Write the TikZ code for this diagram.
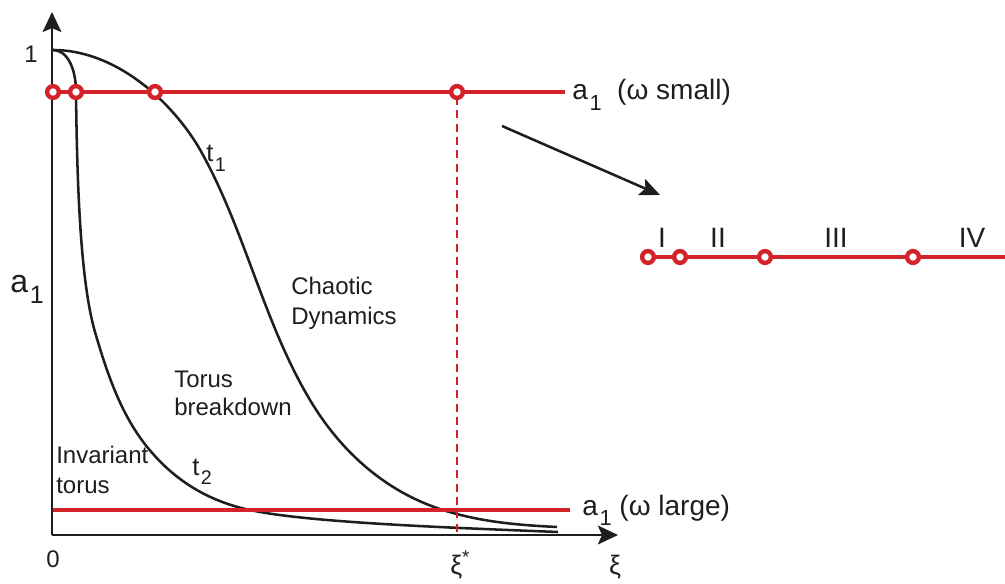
\documentclass[tikz,border=0pt]{standalone}
\usepackage{fontspec}
\setmainfont{Liberation Sans}
\usetikzlibrary{arrows.meta}
\definecolor{cred}{RGB}{210,35,42}
\definecolor{cblack}{RGB}{30,30,30}
\newcommand\lbl[1]{\fontsize{#1}{#1}\selectfont}
\newcommand\sbs[1]{\kern0.06em\raisebox{-0.36em}{\scalebox{0.78}{#1}}}
\begin{document}
\begin{tikzpicture}[x=0.75pt,y=-0.75pt,
  axis/.style={draw=cblack,line width=2.2pt,-{Stealth[length=15pt,width=14pt,inset=3pt]}},
  curve/.style={draw=cblack,line width=1.9pt},
  redline/.style={draw=cred,line width=3.7pt},
  reddash/.style={draw=cred,line width=1.6pt,dash pattern=on 6pt off 4pt},
  ring/.style={circle,draw=cred,fill=white,line width=3.3pt,minimum size=8.8pt,inner sep=0pt},
  txt/.style={inner sep=0pt,text=cblack},
  pointer/.style={draw=cblack,line width=1.9pt,-{Stealth[length=15pt,width=13pt,inset=3pt]}}]
\useasboundingbox (0,0) rectangle (1005,584);
% axes
\coordinate (O) at (52,535);
\coordinate (ytip) at (52,12);
\coordinate (xtip) at (618,535);
\draw[axis] (O) -- (ytip);
\draw[axis] (O) -- (xtip);
% curve t1
\draw[curve] (53,50) .. controls (120,50) and (178,108) .. (203,155)
  .. controls (246,234) and (264,323) .. (310,400)
  .. controls (341,452) and (386,492) .. (443,510)
  .. controls (481,522) and (517,525) .. (557,527);
% curve t2
\draw[curve] (53,50) .. controls (67,50) and (76,68) .. (76,92)
  .. controls (77,180) and (80,280) .. (95,332)
  .. controls (109,380) and (124,422) .. (154,455)
  .. controls (180,484) and (212,502) .. (250,510)
  .. controls (309,523) and (460,528) .. (558,532);
% top red line
\coordinate (tl) at (53,92);
\coordinate (tr) at (565,92);
\draw[redline] (tl) -- (tr);
\coordinate (xs) at (457,533);
\node[ring] (r1) at (53,92) {};
\node[ring] (r2) at (76,92) {};
\node[ring] (r3) at (155,92) {};
\draw[reddash] (457,97) -- (xs);
\node[ring] (r4) at (457,92) {};
% bottom red line
\coordinate (bl) at (53,510);
\coordinate (br) at (570,510);
\draw[redline] (bl) -- (br);
% pointer arrow
\coordinate (ps) at (502,126);
\coordinate (pe) at (660,195);
\draw[pointer] (ps) -- (pe);
% right line
\coordinate (rl) at (648,257);
\coordinate (rr) at (1005,257);
\draw[redline] (rl) -- (rr);
\node[ring] (s1) at (648,257) {};
\node[ring] (s2) at (680,257) {};
\node[ring] (s3) at (765,257) {};
\node[ring] (s4) at (913,257) {};
\node[txt,anchor=base] (nI) at (662,248) {\lbl{21pt}I};
\node[txt,anchor=base] (nII) at (718,248) {\lbl{21pt}II};
\node[txt,anchor=base] (nIII) at (836,248) {\lbl{21pt}III};
\node[txt,anchor=base] (nIV) at (972,248) {\lbl{21pt}IV};
% labels
\node[txt,anchor=base west] (ls) at (572,100) {\lbl{21pt}a\sbs{1}\ \ (ω small)};
\node[txt,anchor=base west] (ll) at (582,515) {\lbl{21pt}a\sbs{1} (ω large)};
\node[txt,anchor=base west] (ya) at (10,292) {\lbl{24pt}a\sbs{1}};
\node[txt,anchor=base] (one) at (31,63) {\lbl{18pt}1};
\node[txt,anchor=base] (zero) at (53,567) {\lbl{18pt}0};
\node[txt,anchor=base west] (xis) at (450,574) {\lbl{20pt}ξ\textsuperscript{*}};
\node[txt,anchor=base] (xi) at (615,574) {\lbl{20pt}ξ};
\node[txt,anchor=base west] (t1) at (206,162) {\lbl{19pt}t\sbs{1}};
\node[txt,anchor=base west] (t2) at (192,475) {\lbl{19pt}t\sbs{2}};
\node[txt,anchor=base west] (cd1) at (291,295) {\lbl{18pt}Chaotic};
\node[txt,anchor=base west] (cd2) at (291,325) {\lbl{18pt}Dynamics};
\node[txt,anchor=base west] (tb1) at (174,387) {\lbl{18pt}Torus};
\node[txt,anchor=base west] (tb2) at (174,415) {\lbl{18pt}breakdown};
\node[txt,anchor=base west] (it1) at (56,463) {\lbl{18pt}Invariant};
\node[txt,anchor=base west] (it2) at (56,493) {\lbl{18pt}torus};
\end{tikzpicture}
\end{document}
